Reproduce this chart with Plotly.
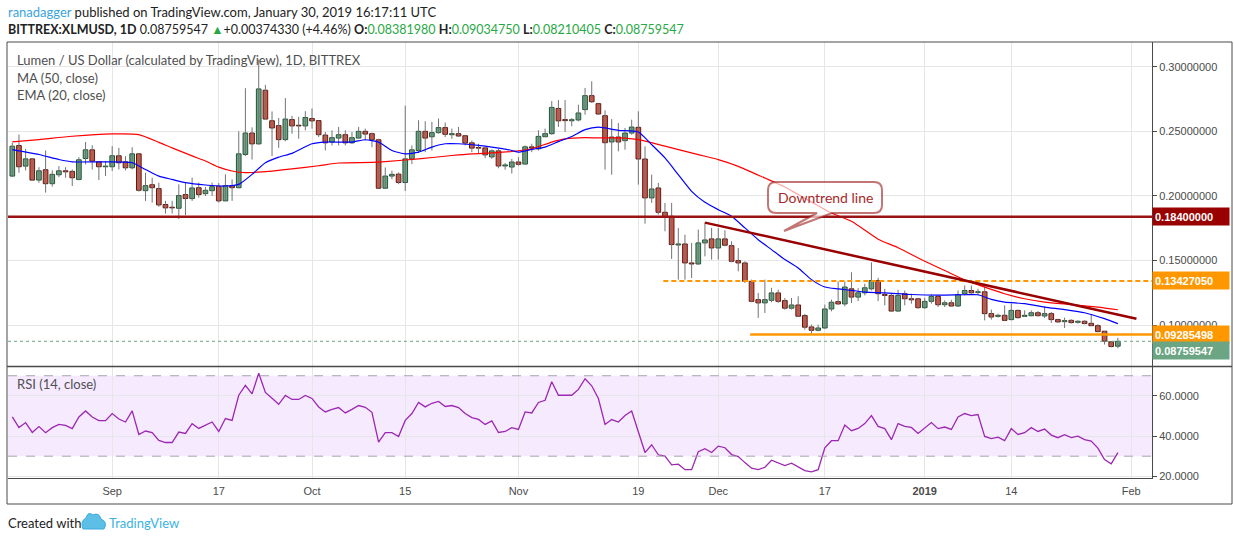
import plotly.graph_objects as go
import pandas as pd

# BITTREX:XLMUSD daily candles, 17 Aug 2018 .. 30 Jan 2019
start = "2018-08-17"

opens = [
    0.2154, 0.2390, 0.2231, 0.2287, 0.2123, 0.2203, 0.2095, 0.2164, 0.2195, 0.2190,
    0.2128, 0.2290, 0.2357, 0.2264, 0.2226, 0.2226, 0.2311, 0.2264, 0.2218, 0.2326,
    0.2041, 0.2087, 0.2057, 0.1934, 0.1913, 0.1905, 0.2011, 0.1980, 0.2064, 0.2018,
    0.2041, 0.2075, 0.1962, 0.2080, 0.2064, 0.2321, 0.2487, 0.2403, 0.2818, 0.2582,
    0.2544, 0.2436, 0.2591, 0.2547, 0.2542, 0.2599, 0.2583, 0.2471, 0.2417, 0.2448,
    0.2474, 0.2411, 0.2448, 0.2500, 0.2482, 0.2435, 0.2060, 0.2154, 0.2169, 0.2104,
    0.2287, 0.2352, 0.2500, 0.2458, 0.2490, 0.2529, 0.2474, 0.2482, 0.2466, 0.2411,
    0.2375, 0.2372, 0.2302, 0.2349, 0.2232, 0.2224, 0.2263, 0.2247, 0.2380, 0.2365,
    0.2458, 0.2482, 0.2677, 0.2591, 0.2582, 0.2588, 0.2668, 0.2776, 0.2714, 0.2621,
    0.2418, 0.2456, 0.2428, 0.2487, 0.2531, 0.2286, 0.1985, 0.2062, 0.1874, 0.1843,
    0.1621, 0.1629, 0.1482, 0.1474, 0.1637, 0.1668, 0.1598, 0.1668, 0.1616, 0.1500,
    0.1482, 0.1340, 0.1198, 0.1173, 0.1193, 0.1250, 0.1191, 0.1132, 0.1157, 0.1075,
    0.0987, 0.0961, 0.0979, 0.1126, 0.1183, 0.1165, 0.1282, 0.1218, 0.1251, 0.1282,
    0.1346, 0.1238, 0.1231, 0.1110, 0.1244, 0.1205, 0.1205, 0.1136, 0.1185, 0.1223,
    0.1159, 0.1174, 0.1149, 0.1244, 0.1269, 0.1254, 0.1259, 0.1090, 0.1069, 0.1077,
    0.1044, 0.1115, 0.1069, 0.1074, 0.1097, 0.1072, 0.1090, 0.1044, 0.1028, 0.1038,
    0.1023, 0.1031, 0.1015, 0.0997, 0.0954, 0.0872, 0.08381980,
]
highs = [
    0.2411, 0.2475, 0.2364, 0.2290, 0.2223, 0.2352, 0.2198, 0.2231, 0.2223, 0.2205,
    0.2300, 0.2418, 0.2393, 0.2270, 0.2270, 0.2385, 0.2372, 0.2308, 0.2377, 0.2326,
    0.2180, 0.2141, 0.2103, 0.1962, 0.1962, 0.2090, 0.2103, 0.2141, 0.2103, 0.2070,
    0.2103, 0.2100, 0.2167, 0.2128, 0.2500, 0.2834, 0.2531, 0.3055, 0.2859, 0.2654,
    0.2603, 0.2757, 0.2620, 0.2612, 0.2656, 0.2677, 0.2583, 0.2495, 0.2508, 0.2534,
    0.2508, 0.2495, 0.2534, 0.2521, 0.2490, 0.2443, 0.2221, 0.2195, 0.2182, 0.2698,
    0.2391, 0.2586, 0.2578, 0.2573, 0.2599, 0.2568, 0.2521, 0.2534, 0.2469, 0.2430,
    0.2404, 0.2378, 0.2360, 0.2365, 0.2255, 0.2287, 0.2300, 0.2391, 0.2404, 0.2508,
    0.2521, 0.2734, 0.2742, 0.2742, 0.2603, 0.2706, 0.2835, 0.2887, 0.2714, 0.2662,
    0.2595, 0.2564, 0.2526, 0.2590, 0.2655, 0.2384, 0.2165, 0.2101, 0.1946, 0.1946,
    0.1753, 0.1701, 0.1637, 0.1740, 0.1796, 0.1753, 0.1753, 0.1735, 0.1650, 0.1598,
    0.1495, 0.1353, 0.1250, 0.1353, 0.1289, 0.1276, 0.1211, 0.1211, 0.1224, 0.1088,
    0.1005, 0.1005, 0.1160, 0.1198, 0.1340, 0.1340, 0.1410, 0.1287, 0.1321, 0.1487,
    0.1367, 0.1282, 0.1249, 0.1274, 0.1269, 0.1244, 0.1213, 0.1213, 0.1238, 0.1231,
    0.1192, 0.1197, 0.1269, 0.1308, 0.1308, 0.1282, 0.1321, 0.1121, 0.1090, 0.1154,
    0.1167, 0.1121, 0.1115, 0.1115, 0.1110, 0.1146, 0.1103, 0.1051, 0.1059, 0.1046,
    0.1038, 0.1038, 0.1082, 0.1008, 0.0956, 0.0879, 0.09034750,
]
lows = [
    0.2146, 0.2180, 0.2198, 0.2116, 0.2103, 0.2026, 0.2072, 0.2146, 0.2141, 0.2077,
    0.2121, 0.2244, 0.2205, 0.2123, 0.2154, 0.2193, 0.2205, 0.2198, 0.2205, 0.2034,
    0.1962, 0.1949, 0.1916, 0.1864, 0.1864, 0.1821, 0.1852, 0.1962, 0.1987, 0.2000,
    0.2000, 0.1949, 0.1962, 0.1962, 0.2059, 0.2308, 0.2282, 0.2398, 0.2590, 0.2308,
    0.2372, 0.2423, 0.2482, 0.2443, 0.2508, 0.2521, 0.2456, 0.2352, 0.2391, 0.2391,
    0.2391, 0.2404, 0.2443, 0.2430, 0.2378, 0.2060, 0.2060, 0.2130, 0.2091, 0.2039,
    0.2247, 0.2331, 0.2339, 0.2352, 0.2482, 0.2456, 0.2443, 0.2456, 0.2391, 0.2339,
    0.2326, 0.2292, 0.2287, 0.2214, 0.2203, 0.2174, 0.2234, 0.2245, 0.2339, 0.2352,
    0.2456, 0.2474, 0.2534, 0.2495, 0.2539, 0.2577, 0.2629, 0.2719, 0.2629, 0.2204,
    0.2165, 0.2345, 0.2358, 0.2474, 0.2088, 0.1786, 0.1946, 0.1856, 0.1727, 0.1513,
    0.1353, 0.1353, 0.1366, 0.1469, 0.1533, 0.1508, 0.1508, 0.1611, 0.1487, 0.1417,
    0.1327, 0.1178, 0.1057, 0.1095, 0.1178, 0.1173, 0.1121, 0.1121, 0.1064, 0.0966,
    0.0935, 0.0953, 0.0972, 0.1108, 0.1160, 0.1147, 0.1172, 0.1187, 0.1231, 0.1269,
    0.1187, 0.1154, 0.1103, 0.1103, 0.1154, 0.1167, 0.1128, 0.1128, 0.1167, 0.1141,
    0.1141, 0.1146, 0.1141, 0.1231, 0.1244, 0.1231, 0.1038, 0.1044, 0.1059, 0.1038,
    0.1038, 0.1051, 0.1064, 0.1069, 0.1069, 0.1056, 0.1018, 0.1018, 0.0979, 0.1013,
    0.1013, 0.1008, 0.0992, 0.0946, 0.0851, 0.0828, 0.08210405,
]
closes = [
    0.2385, 0.2226, 0.2287, 0.2123, 0.2195, 0.2095, 0.2167, 0.2195, 0.2187, 0.2141,
    0.2280, 0.2357, 0.2270, 0.2226, 0.2231, 0.2311, 0.2257, 0.2218, 0.2326, 0.2044,
    0.2080, 0.2064, 0.1931, 0.1908, 0.1908, 0.2003, 0.1980, 0.2062, 0.2011, 0.2044,
    0.2072, 0.1962, 0.2080, 0.2064, 0.2326, 0.2487, 0.2403, 0.2828, 0.2595, 0.2526,
    0.2436, 0.2595, 0.2542, 0.2542, 0.2607, 0.2581, 0.2474, 0.2411, 0.2451, 0.2474,
    0.2411, 0.2451, 0.2500, 0.2479, 0.2435, 0.2060, 0.2154, 0.2167, 0.2104, 0.2287,
    0.2357, 0.2500, 0.2448, 0.2490, 0.2529, 0.2477, 0.2482, 0.2464, 0.2409, 0.2370,
    0.2370, 0.2318, 0.2349, 0.2232, 0.2240, 0.2263, 0.2245, 0.2380, 0.2372, 0.2461,
    0.2482, 0.2685, 0.2581, 0.2583, 0.2590, 0.2642, 0.2776, 0.2729, 0.2634, 0.2412,
    0.2456, 0.2418, 0.2487, 0.2533, 0.2286, 0.1985, 0.2054, 0.1874, 0.1838, 0.1624,
    0.1629, 0.1482, 0.1474, 0.1637, 0.1660, 0.1598, 0.1668, 0.1619, 0.1495, 0.1482,
    0.1340, 0.1185, 0.1173, 0.1198, 0.1250, 0.1185, 0.1132, 0.1157, 0.1070, 0.0985,
    0.0961, 0.0979, 0.1126, 0.1178, 0.1165, 0.1296, 0.1218, 0.1251, 0.1290, 0.1346,
    0.1244, 0.1231, 0.1110, 0.1231, 0.1205, 0.1197, 0.1136, 0.1185, 0.1223, 0.1159,
    0.1174, 0.1149, 0.1238, 0.1269, 0.1251, 0.1259, 0.1090, 0.1064, 0.1077, 0.1038,
    0.1115, 0.1059, 0.1077, 0.1097, 0.1074, 0.1090, 0.1044, 0.1026, 0.1036, 0.1021,
    0.1031, 0.1013, 0.0997, 0.0951, 0.0877, 0.0836, 0.08759547,
]

# RSI (14, close), one value per candle
rsi = [
    49.5, 44.2, 46.7, 41.8, 44.7, 41.7, 44.2, 45.8, 45.3, 43.7,
    49.5, 52.5, 49.5, 47.7, 47.7, 51.2, 48.5, 47.0, 52.5, 40.8,
    42.5, 41.7, 37.8, 36.8, 36.8, 42.0, 41.3, 46.2, 43.8, 45.3,
    47.0, 42.3, 48.7, 47.8, 60.3, 65.2, 61.0, 71.2, 61.7, 58.8,
    55.8, 60.2, 58.2, 58.2, 60.2, 58.7, 54.5, 52.0, 53.3, 54.2,
    51.5, 53.3, 55.2, 54.3, 51.8, 37.0, 41.7, 41.7, 39.8, 47.8,
    51.2, 56.7, 54.5, 56.3, 57.2, 54.7, 55.2, 54.2, 51.2, 49.2,
    48.3, 45.8, 47.5, 41.8, 42.3, 44.2, 43.3, 52.0, 51.5, 56.7,
    57.8, 67.0, 60.3, 60.3, 60.3, 63.2, 68.5, 65.0, 58.7, 45.8,
    48.2, 47.0, 50.2, 52.5, 42.2, 31.8, 35.7, 30.7, 30.0, 25.7,
    26.0, 23.3, 23.3, 32.2, 33.7, 31.8, 35.0, 34.2, 30.8, 29.8,
    26.8, 24.0, 23.3, 24.5, 28.0, 26.7, 25.3, 26.5, 24.5, 22.8,
    22.2, 23.3, 34.2, 37.7, 37.7, 45.5, 42.7, 43.8, 46.2, 50.2,
    44.8, 43.7, 38.2, 46.2, 44.8, 44.3, 41.3, 44.2, 46.7, 43.7,
    44.5, 43.3, 49.5, 51.2, 50.2, 50.7, 39.8, 38.7, 39.5, 37.7,
    43.7, 40.8, 41.7, 44.2, 42.3, 43.5, 40.5, 39.2, 40.7, 39.2,
    40.0, 38.2, 37.5, 34.0, 28.3, 26.2, 31.8,
]

# moving averages, sampled off the chart (day offset from start, value)
ma50_day = [0, 4, 9, 15, 19, 22, 24, 27, 29, 31, 33, 35, 37, 39, 42, 46, 49, 54,
            56, 61, 66, 69, 72, 75, 78, 81, 83, 86, 88, 91, 94, 98, 103, 106, 109,
            113, 116, 118, 121, 123, 126, 130, 133, 137, 140, 143, 146, 149, 152,
            155, 159, 163, 166]
ma50 = [0.2418, 0.2436, 0.2462, 0.2480, 0.2475, 0.2415, 0.2372, 0.2310, 0.2270,
        0.2223, 0.2193, 0.2180, 0.2185, 0.2193, 0.2210, 0.2234, 0.2255, 0.2260,
        0.2266, 0.2287, 0.2313, 0.2326, 0.2333, 0.2344, 0.2365, 0.2417, 0.2441,
        0.2451, 0.2449, 0.2449, 0.2436, 0.2385, 0.2320, 0.2281, 0.2229, 0.2139,
        0.2070, 0.2011, 0.1925, 0.1868, 0.1804, 0.1666, 0.1600, 0.1495, 0.1423,
        0.1351, 0.1295, 0.1244, 0.1205, 0.1179, 0.1160, 0.1140, 0.1120]
ema20_day = [0, 4, 7, 9, 14, 18, 20, 22, 24, 26, 29, 32, 34, 36, 38, 40, 42, 45,
             47, 51, 53, 55, 57, 59, 61, 63, 65, 67, 70, 72, 75, 76, 78, 80, 82,
             84, 86, 88, 91, 94, 96, 98, 100, 102, 104, 106, 108, 110, 112, 114,
             116, 118, 120, 122, 124, 126, 128, 131, 135, 139, 143, 145, 147, 149,
             152, 155, 158, 161, 164, 166]
ema20 = [0.2359, 0.2321, 0.2282, 0.2264, 0.2264, 0.2257, 0.2205, 0.2154, 0.2128,
         0.2103, 0.2085, 0.2077, 0.2090, 0.2167, 0.2257, 0.2300, 0.2330, 0.2404,
         0.2417, 0.2417, 0.2435, 0.2417, 0.2352, 0.2326, 0.2339, 0.2378, 0.2404,
         0.2404, 0.2391, 0.2378, 0.2352, 0.2339, 0.2360, 0.2378, 0.2420, 0.2460,
         0.2513, 0.2533, 0.2508, 0.2495, 0.2397, 0.2294, 0.2165, 0.2036, 0.1951,
         0.1894, 0.1843, 0.1753, 0.1662, 0.1585, 0.1508, 0.1443, 0.1353, 0.1296,
         0.1281, 0.1270, 0.1256, 0.1251, 0.1238, 0.1233, 0.1236, 0.1236, 0.1200,
         0.1179, 0.1167, 0.1141, 0.1121, 0.1097, 0.1051, 0.1013]

support = 0.18400000
resistance = 0.13427050
breakdown = 0.09285498

x_ticks = ["2018-09-01", "2018-09-17", "2018-10-01", "2018-10-15", "2018-11-01",
           "2018-11-19", "2018-12-01", "2018-12-17", "2019-01-01", "2019-01-14",
           "2019-02-01"]
x_labels = ["Sep", "17", "Oct", "15", "Nov", "19", "Dec", "17", "<b>2019</b>", "14", "Feb"]

dates = pd.date_range(start, periods=len(closes), freq="D")
x_end = "2019-02-04 03:00"

UP, DOWN = "#6BA583", "#D75442"
UP_EDGE, DOWN_EDGE = "#225437", "#5B1A13"
TXT = "Lato, Open Sans, sans-serif"
AXF = "Liberation Sans, Arial, sans-serif"


def px(x):
    # page pixel -> paper x
    return (x - 8) / 1144


def py(y):
    # page pixel -> paper y
    return (478 - y) / 436


def pt(x, y):
    return f"{px(x):.5f},{py(y):.5f}"


fig = go.Figure()

# wicks
wick_x, wick_y = [], []
for d, lo, hi in zip(dates, lows, highs):
    wick_x += [d, d, None]
    wick_y += [lo, hi, None]
fig.add_trace(go.Scatter(x=wick_x, y=wick_y, mode="lines",
                         line=dict(color="#737375", width=1), hoverinfo="skip"))

# bodies
rising = [c >= o for o, c in zip(opens, closes)]
fig.add_trace(go.Bar(
    x=dates,
    base=[min(o, c) for o, c in zip(opens, closes)],
    y=[max(abs(c - o), 0.0005) for o, c in zip(opens, closes)],
    width=0.7 * 86400000,
    marker=dict(color=[UP if r else DOWN for r in rising],
                line=dict(color=[UP_EDGE if r else DOWN_EDGE for r in rising], width=1)),
))

fig.add_trace(go.Scatter(x=dates[ma50_day], y=ma50, mode="lines",
                         line=dict(color="#FF0000", width=1.2, shape="spline", smoothing=0.6)))
fig.add_trace(go.Scatter(x=dates[ema20_day], y=ema20, mode="lines",
                         line=dict(color="#0000FF", width=1.2, shape="spline", smoothing=0.6)))

fig.add_trace(go.Scatter(x=dates, y=rsi, yaxis="y2", mode="lines",
                         line=dict(color="#9C27B0", width=1.3)))

# callout box with pointer, drawn in page pixels
callout = (f"M{pt(776, 182)} L{pt(874, 182)} Q{pt(882, 182)} {pt(882, 190)} "
           f"L{pt(882, 205)} Q{pt(882, 213)} {pt(874, 213)} "
           f"L{pt(832, 213)} L{pt(784, 231)} L{pt(817, 213)} "
           f"L{pt(776, 213)} Q{pt(768, 213)} {pt(768, 205)} "
           f"L{pt(768, 190)} Q{pt(768, 182)} {pt(776, 182)} Z")

logo = (f"M{pt(83, 529)} L{pt(104, 529)} Q{pt(108, 522)} {pt(101, 519)} "
        f"Q{pt(99, 512)} {pt(93, 515)} Q{pt(88, 511)} {pt(86, 518)} "
        f"Q{pt(80, 521)} {pt(83, 529)} Z")

shapes = [
    dict(type="rect", xref="paper", yref="y2", x0=0, x1=1, y0=30, y1=70,
         fillcolor="rgba(153,21,255,0.09)", line_width=0, layer="between"),
    dict(type="line", xref="paper", yref="y2", x0=0, x1=1, y0=70, y1=70,
         line=dict(color="#A8A3B0", width=1, dash="dash")),
    dict(type="line", xref="paper", yref="y2", x0=0, x1=1, y0=30, y1=30,
         line=dict(color="#A8A3B0", width=1, dash="dash")),
    dict(type="line", xref="paper", yref="y", x0=0, x1=1, y0=closes[-1], y1=closes[-1],
         line=dict(color="#6BA583", width=1, dash="dot")),
    dict(type="line", xref="paper", yref="y", x0=0, x1=1, y0=support, y1=support,
         line=dict(color="#9B1414", width=2.5)),
    dict(type="line", xref="x", yref="y", x0="2018-11-22 18:00", x1=x_end,
         y0=resistance, y1=resistance, line=dict(color="#FF9800", width=2, dash="5px,3px")),
    dict(type="line", xref="x", yref="y", x0="2018-12-05 19:00", x1=x_end,
         y0=breakdown, y1=breakdown, line=dict(color="#FF9800", width=2.5)),
    dict(type="line", xref="x", yref="y", x0="2018-11-29", x1="2019-02-01 19:00",
         y0=0.1794, y1=0.1050, line=dict(color="#990000", width=2.5)),
    dict(type="path", xref="paper", yref="paper", path=callout,
         fillcolor="rgba(255,255,255,0.65)", line=dict(color="rgba(155,27,27,0.6)", width=2)),
    dict(type="rect", xref="paper", yref="paper", x0=px(7), x1=px(1232), y0=py(504), y1=py(42),
         line=dict(color="#4A4A4A", width=1)),
    dict(type="line", xref="paper", yref="paper", x0=px(7), x1=px(1232), y0=py(366.5), y1=py(366.5),
         line=dict(color="#4A4A4A", width=1.5)),
    dict(type="path", xref="paper", yref="paper", path=logo,
         fillcolor="#5DBFE6", line=dict(color="#3BA9DC", width=1)),
]

green = "#27A844"
line1 = ("<span style='color:#3BA3E0'>ranadagger</span> published on TradingView.com, "
         "January 30, 2019 16:17:11 UTC")
line2 = (f"<b>BITTREX:XLMUSD, 1D</b> {closes[-1]:.8f} <span style='color:{green}'>▲</span>"
         f"+0.00374330 (+4.46%) "
         f"<b>O:</b><span style='color:{green}'>{opens[-1]:.8f}</span> "
         f"<b>H:</b><span style='color:{green}'>{highs[-1]:.8f}</span> "
         f"<b>L:</b><span style='color:{green}'>{lows[-1]:.8f}</span> "
         f"<b>C:</b><span style='color:{green}'>{closes[-1]:.8f}</span>")


def note(text, x, y, size=13, color="#4F4F4F", anchor="left"):
    return dict(text=text, x=x, y=y, xref="paper", yref="paper", xanchor=anchor,
                yanchor="middle", showarrow=False, font=dict(family=TXT, size=size, color=color))


annotations = [
    note(line1, px(6), py(12), 13, "#222222"),
    note(line2, px(6), py(30), 12.5, "#222222"),
    note("Lumen / US Dollar (calculated by TradingView), 1D, BITTREX", px(15), py(60)),
    note("MA (50, close)", px(15), py(78)),
    note("EMA (20, close)", px(15), py(95)),
    note("RSI (14, close)", px(15), py(384)),
    note("Created with", px(6), py(523), 13, "#222222"),
    note("TradingView", px(107), py(523), 13, "#3BB3E4"),
    note("Downtrend line", px(825), py(197), 14, "#A52A2A", "center"),
]

for val, bg, shift in [(support, "#990000", 0), (resistance, "#FF9800", 0),
                       (breakdown, "#FF9800", 0), (closes[-1], "#6BA583", -9)]:
    annotations.append(dict(
        text=f"<b>{val:.8f}</b>", x=1, y=val, xref="paper", yref="y", xanchor="left",
        yanchor="middle", yshift=shift, showarrow=False, align="left", width=72, height=13,
        borderpad=2, bgcolor=bg, font=dict(family=AXF, size=11, color="white")))

fig.update_layout(
    width=1234, height=541,
    margin=dict(l=8, r=82, t=42, b=63),
    paper_bgcolor="white", plot_bgcolor="white",
    showlegend=False, barmode="overlay", hovermode=False,
    shapes=shapes, annotations=annotations,
    xaxis=dict(type="date", range=["2018-08-16 08:30", x_end], anchor="y2",
               tickmode="array", tickvals=x_ticks, ticktext=x_labels,
               showgrid=True, gridcolor="#E6E6E6", zeroline=False,
               showline=True, linecolor="#4A4A4A", ticks="outside", ticklen=3,
               tickcolor="rgba(0,0,0,0)", tickfont=dict(family=AXF, size=11, color="#4A4A4A")),
    yaxis=dict(domain=[0.2569, 1], anchor="x", side="right", range=[0.0685, 0.3191],
               tickmode="array", tickvals=[0.10, 0.15, 0.20, 0.25, 0.30], tickformat=".8f",
               showgrid=True, gridcolor="#E6E6E6", zeroline=False,
               showline=True, linecolor="#4A4A4A", ticks="outside", ticklen=4,
               tickcolor="#4A4A4A", tickfont=dict(family=AXF, size=11, color="#4A4A4A")),
    yaxis2=dict(domain=[0, 0.2546], anchor="x", side="right", range=[19.15, 74.35],
                tickmode="array", tickvals=[20, 40, 60], tickformat=".4f",
                showgrid=True, gridcolor="#E6E6E6", zeroline=False,
                showline=True, linecolor="#4A4A4A", ticks="outside", ticklen=4,
                tickcolor="#4A4A4A", tickfont=dict(family=AXF, size=11, color="#4A4A4A")),
)

fig.write_html("out.html", config={"displayModeBar": False},
               post_script="document.body.style.margin='0';")
